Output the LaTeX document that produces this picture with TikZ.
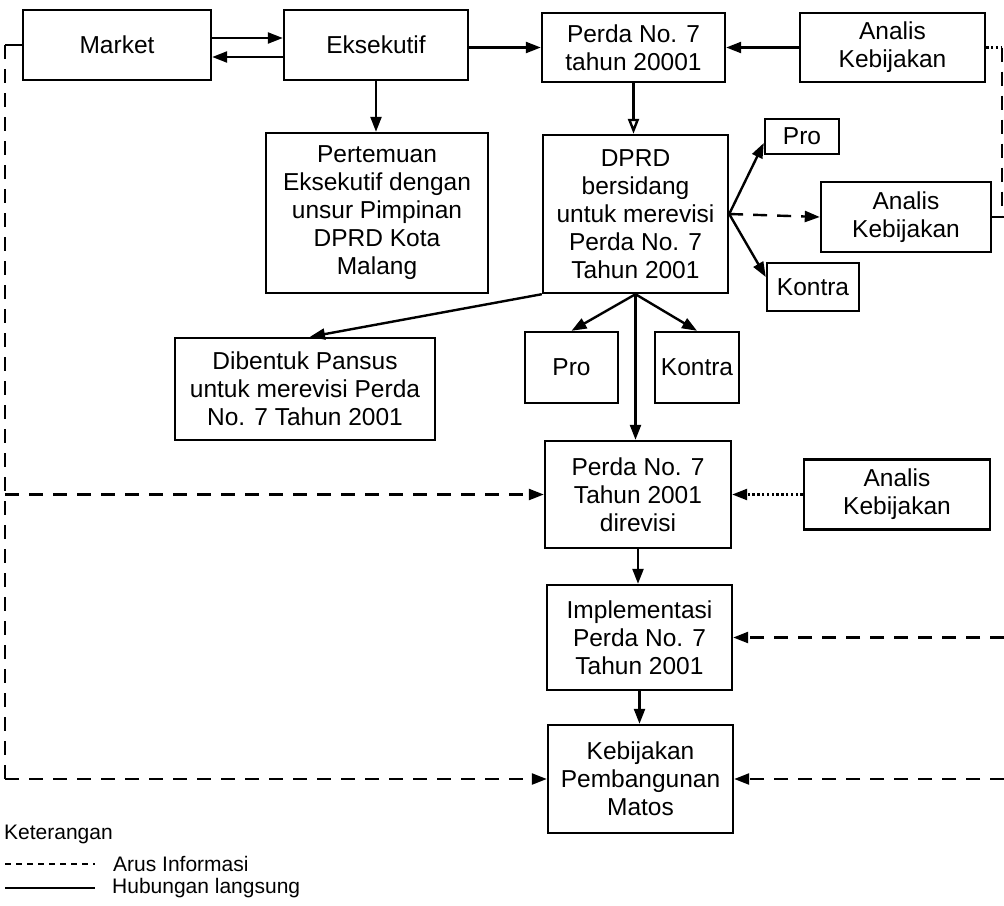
\documentclass[tikz,border=0pt]{standalone}
\usepackage{fontspec}
\setmainfont{Liberation Sans}
\usetikzlibrary{arrows.meta}
\begin{document}
\begin{tikzpicture}[x=1pt,y=-1pt,
  box/.style={draw,line width=2.4pt,align=center,inner sep=0pt,
    font=\fontsize{24.5}{28}\selectfont},
  link/.style={line width=2.4pt},
  arr/.style={link,-{Triangle[length=15pt,width=11pt]}},
  openarr/.style={link,-{Triangle[open,length=15pt,width=11pt]}},
  info/.style={link,dash pattern=on 14pt off 10pt},
  infoarr/.style={info,-{Triangle[length=15pt,width=11pt]}},
  dotarr/.style={link,dash pattern=on 2.4pt off 2.4pt,-{Triangle[length=15pt,width=11pt]}},
  legend/.style={anchor=west,inner sep=0pt,font=\fontsize{21}{24}\selectfont}]
\useasboundingbox (0,0) rectangle (1004,905);

% top row
\node[box,minimum width=188pt,minimum height=70pt] (market) at (117,45) {Market};
\node[box,minimum width=184pt,minimum height=70pt] (eksek) at (376,45) {Eksekutif};
\node[box,minimum width=183pt,minimum height=69pt] (perda) at (633.5,47.5) {Perda No. 7\\tahun 20001};
\node[box,minimum width=185pt,minimum height=69pt] (analisa) at (892.5,47.5) {Analis\\Kebijakan};

% second row
\node[box,minimum width=222pt,minimum height=160pt] (temu) at (377,213) {Pertemuan\\Eksekutif dengan\\unsur Pimpinan\\DPRD Kota\\Malang};
\node[box,minimum width=185pt,minimum height=158pt] (dprd) at (635.5,214) {DPRD\\bersidang\\untuk merevisi\\Perda No. 7\\Tahun 2001};
\node[box,minimum width=74pt,minimum height=35pt] (proa) at (802,136.5) {Pro};
\node[box,minimum width=170pt,minimum height=70pt] (analisb) at (906,217) {Analis\\Kebijakan};
\node[box,minimum width=92pt,minimum height=48pt] (kontraa) at (813,287) {Kontra};

% third row
\node[box,minimum width=260pt,minimum height=102pt] (pansus) at (305,389) {Dibentuk Pansus\\untuk merevisi Perda\\No. 7 Tahun 2001};
\node[box,minimum width=93pt,minimum height=71pt] (prob) at (571.5,367.5) {Pro};
\node[box,minimum width=84pt,minimum height=71pt] (kontrab) at (697,367.5) {Kontra};

% lower column
\node[box,minimum width=186pt,minimum height=107pt] (revisi) at (638,494.5) {Perda No. 7\\Tahun 2001\\direvisi};
\node[box,minimum width=186pt,minimum height=70pt] (analisc) at (897,494.5) {Analis\\Kebijakan};
\node[box,minimum width=185pt,minimum height=105pt] (impl) at (639.5,637.5) {Implementasi\\Perda No. 7\\Tahun 2001};
\node[box,minimum width=185pt,minimum height=108pt] (keb) at (640.5,779) {Kebijakan\\Pembangunan\\Matos};

% free ends on the left and right margins
\coordinate (lt) at (5,45);
\coordinate (lm) at (5,494.5);
\coordinate (lb) at (5,779);
\coordinate (rt) at (1002,47.5);
\coordinate (rm) at (1004,217);
\coordinate (rmv) at (1002,217);
\coordinate (ri) at (1004,637.5);
\coordinate (rk) at (1004,779);

% direct relations
\draw[arr] ([yshift=7pt]market.east) -- ([yshift=7pt]eksek.west);
\draw[arr] ([yshift=-12pt]eksek.west) -- ([yshift=-12pt]market.east);
\draw[arr] (eksek.east |- perda.west) -- (perda.west);
\draw[arr] (analisa.west) -- (perda.east);
\draw[arr] (eksek.south) -- (eksek.south |- temu.north);
\draw[openarr] (perda.south) -- (perda.south |- dprd.north);
\draw[arr] (dprd.east) -- ([yshift=-6.5pt]proa.west);
\draw[infoarr] (dprd.east) -- (analisb.west);
\draw[arr] (dprd.east) -- ([yshift=10pt]kontraa.west);
\draw[arr] (dprd.south west) -- ([xshift=5pt]pansus.north);
\draw[arr] (dprd.south) -- (prob.north);
\draw[arr] (dprd.south) -- (kontrab.north);
\draw[arr] (dprd.south) -- (dprd.south |- revisi.north);
\draw[dotarr] (analisc.west) -- (revisi.east);
\draw[arr] (revisi.south) -- (revisi.south |- impl.north);
\draw[arr] (impl.south) -- (impl.south |- keb.north);

% information flows
\draw[link] (market.west) -- (lt);
\draw[info] (lt) -- (lb);
\draw[infoarr] (lm) -- (revisi.west);
\draw[infoarr] (lb) -- (keb.west);
\draw[link,dash pattern=on 2.4pt off 2.4pt] (analisa.east) -- (rt);
\draw[info] (rt) -- (rmv);
\draw[link] (analisb.east) -- (rm);
\draw[infoarr] (ri) -- (impl.east);
\draw[infoarr] (rk) -- (keb.east);

% legend
\node[legend] (ket) at (4,834) {Keterangan};
\coordinate (la) at (5,864);
\coordinate (lae) at (95,864);
\coordinate (lh) at (5,888);
\coordinate (lhe) at (95,888);
\draw[line width=1.6pt,dash pattern=on 6pt off 5pt] (la) -- (lae);
\draw[line width=1.6pt] (lh) -- (lhe);
\node[legend] (arus) at (113,864) {Arus Informasi};
\node[legend] (hub) at (112,888) {Hubungan langsung};
\end{tikzpicture}
\end{document}
